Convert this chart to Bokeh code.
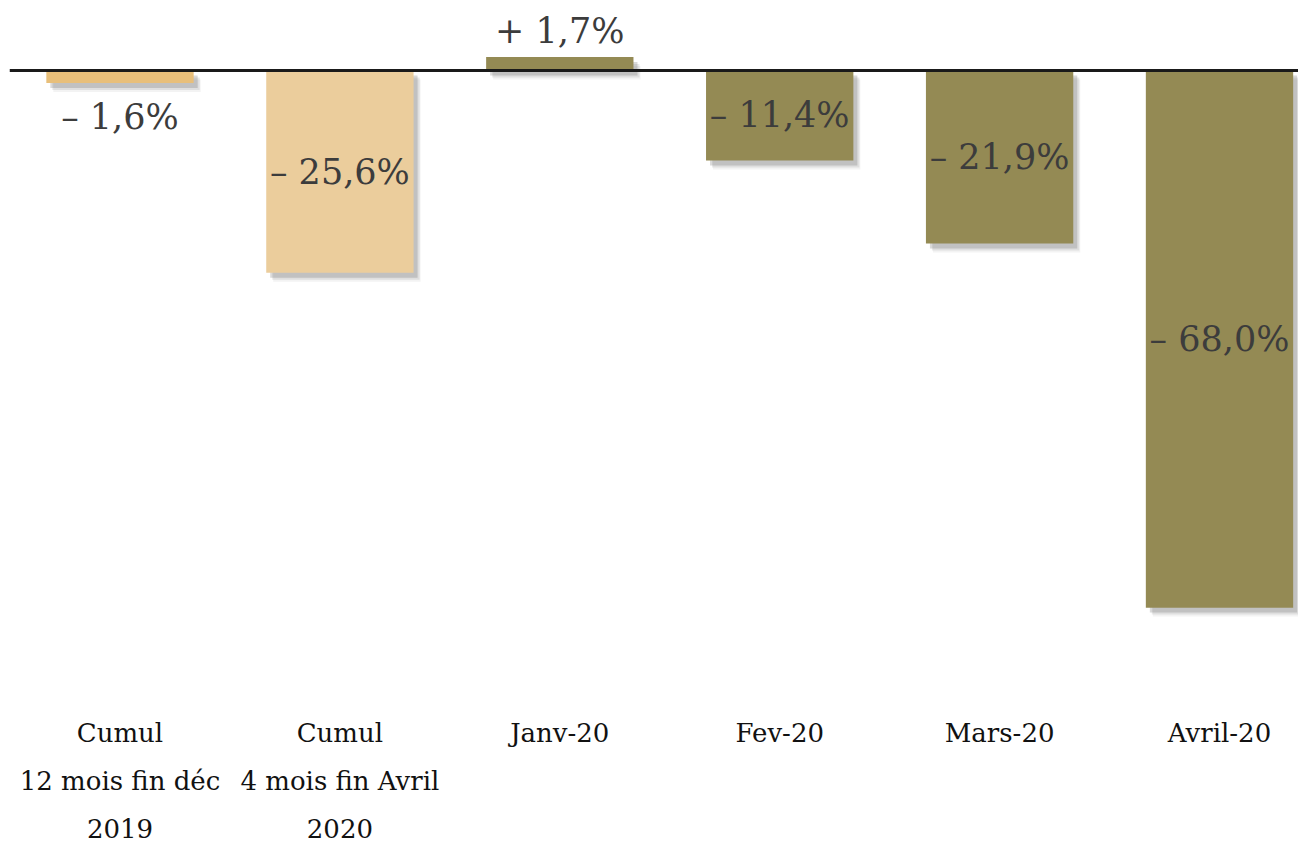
from bokeh.plotting import figure
from bokeh.models import ColumnDataSource, Range1d, FixedTicker, Span
from bokeh.embed import file_html
from bokeh.resources import INLINE
from bokeh.core.properties import value

# ---- data ----
categories = ["Cumul\n12 mois fin déc\n2019", "Cumul\n4 mois fin Avril\n2020",
              "Janv-20", "Fev-20", "Mars-20", "Avril-20"]
values = [-1.6, -25.6, 1.7, -11.4, -21.9, -68.0]
labels = ["– 1,6%", "– 25,6%", "+ 1,7%", "– 11,4%", "– 21,9%", "– 68,0%"]
colors = ["#E8BF7A", "#EBCD9C", "#948A54", "#948A54", "#948A54", "#948A54"]

# ---- style constants ----
PX_PER_UNIT_Y = 7.912
PX_PER_UNIT_X = 219.9
BAR_W = 0.67
W, H = 1298, 846
LEFT = 9
ZERO_PX = 70
FRAME_H = 686

xs = list(range(len(values)))

def label_y(v):
    if abs(v) > 5:
        return v / 2.0
    if v >= 0:
        return v + 26.5 / PX_PER_UNIT_Y
    return v - 34.0 / PX_PER_UNIT_Y

src = ColumnDataSource(dict(
    x=xs, top=values, color=colors, label=labels,
    ly=[label_y(v) for v in values],
))

x0 = -(119.5 - LEFT) / PX_PER_UNIT_X
y_top = ZERO_PX / PX_PER_UNIT_Y
y_bot = -(FRAME_H - ZERO_PX) / PX_PER_UNIT_Y

p = figure(width=W, height=H, output_backend="svg", toolbar_location=None,
           x_range=Range1d(x0, x0 + (W - LEFT) / PX_PER_UNIT_X),
           y_range=Range1d(y_bot, y_top),
           min_border=0, min_border_left=LEFT, min_border_right=0,
           min_border_top=0, min_border_bottom=0,
           y_axis_location=None)
p.outline_line_color = None
p.xgrid.visible = False
p.ygrid.visible = False
p.background_fill_color = "white"
p.border_fill_color = "white"

# soft drop shadow (layers)
for dx, dy, a in [(7, 9, 0.07), (6, 7, 0.12), (4, 5, 0.22)]:
    sh = ColumnDataSource(dict(x=[x + dx / PX_PER_UNIT_X for x in xs],
                               top=[v - dy / PX_PER_UNIT_Y for v in values],
                               bottom=[-dy / PX_PER_UNIT_Y for v in values]))
    p.vbar(x="x", top="top", bottom="bottom", width=BAR_W, source=sh,
           fill_color="#555555", fill_alpha=a, line_color=None)

p.vbar(x="x", top="top", bottom=0, width=BAR_W, source=src,
       fill_color="color", line_color=None)

p.text(x="x", y="ly", text="label", source=src,
       text_font=value("DejaVu Serif"), text_font_size="35px",
       text_color="#3c3c3c", text_align="center", text_baseline="middle")

p.add_layout(Span(location=0, dimension="width", line_color="#1a1a1a", line_width=3))

ax = p.xaxis[0]
ax.ticker = FixedTicker(ticks=xs)
ax.major_label_overrides = {i: c for i, c in enumerate(categories)}
ax.axis_line_color = None
ax.major_tick_line_color = None
ax.minor_tick_line_color = None
ax.major_label_text_font = "DejaVu Serif"
ax.major_label_text_font_size = "26px"
ax.major_label_text_color = "#111111"
ax.major_label_text_line_height = 1.6
ax.major_label_standoff = 26

open("out.html", "w").write(file_html(p, INLINE))
